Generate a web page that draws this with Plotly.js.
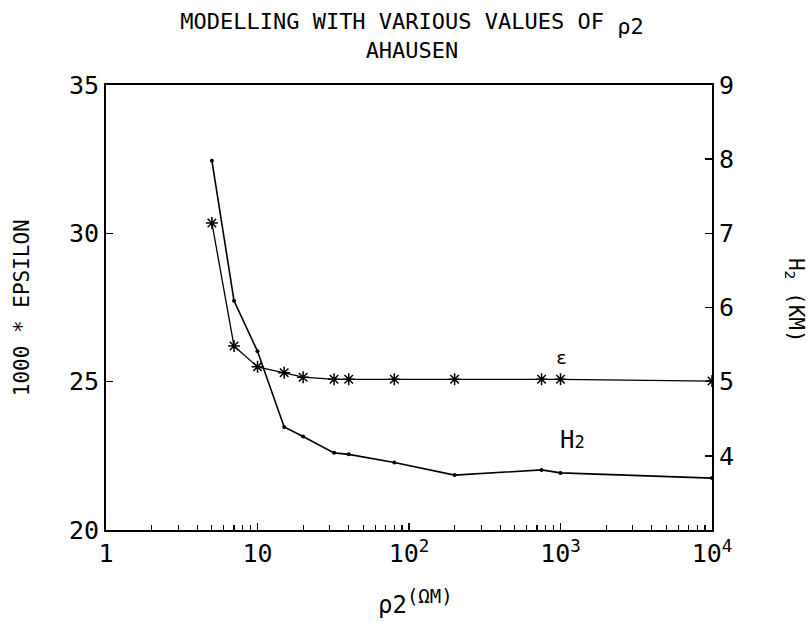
<!DOCTYPE html>
<html><head><meta charset="utf-8">
<script src="https://cdn.plot.ly/plotly-3.0.1.min.js"></script>
<style>html,body{margin:0;padding:0;background:#fff}</style>
</head><body><div id="chart" style="width:811px;height:622px"></div>
<script>
// Data
const rho2 = [5, 7, 10, 15, 20, 32, 40, 80, 200, 750, 1000, 10000];
const epsilon = [30.35, 26.2, 25.5, 25.3, 25.15, 25.08, 25.08, 25.08, 25.08, 25.08, 25.08, 25.02];
const h2 = [7.98, 6.09, 5.41, 4.39, 4.26, 4.04, 4.02, 3.91, 3.74, 3.81, 3.77, 3.70];

const leftTicks = [20, 25, 30, 35];
const leftTickText = ['20', '25', '30', '35'];
const rightTicks = [4, 5, 6, 7, 8, 9];
const rightTickText = ['4', '5', '6', '7', '8', '9'];
const decades = [1, 10, 100, 1000, 10000];
const decadeText = ['1', '10', '10<sup>2</sup>', '10<sup>3</sup>', '10<sup>4</sup>'];

const FONT = '"DejaVu Sans Mono", "Liberation Mono", monospace';

// minor x tick positions (2..9 within each decade)
const xMinor = [];
for (let d = 0; d < decades.length - 1; d++) {
  for (let m = 2; m <= 9; m++) xMinor.push(decades[d] * m);
}

const traces = [
  {x: rho2, y: epsilon, yaxis: 'y', mode: 'lines+markers', name: 'ε',
   line: {color: '#000', width: 1.3},
   marker: {symbol: 'asterisk-open', size: 10, color: '#000', line: {color: '#000', width: 1.5}}},
  {x: rho2, y: h2, yaxis: 'y2', mode: 'lines+markers', name: 'H2',
   line: {color: '#000', width: 1.6},
   marker: {symbol: 'circle', size: 4, color: '#000'}}
];

const layout = {
  width: 811, height: 622,
  paper_bgcolor: '#fff', plot_bgcolor: '#fff',
  showlegend: false,
  margin: {l: 106, r: 99, t: 85, b: 92},
  font: {family: FONT, color: '#000'},
  title: {text: 'MODELLING WITH VARIOUS VALUES OF <sub><span style="font-size:22px">ρ2</span></sub><br>AHAUSEN',
          x: 0.508, xanchor: 'center', yref: 'container', y: 0.953, yanchor: 'middle',
          font: {family: FONT, size: 22, color: '#000'}},
  xaxis: {type: 'log', range: [0, 4], tickmode: 'array', tickvals: decades, ticktext: decadeText,
          ticks: 'inside', ticklen: 7, tickwidth: 1.4, tickcolor: '#000',
          minor: {tickmode: 'array', tickvals: xMinor, ticks: 'inside', ticklen: 5, tickwidth: 1.2, tickcolor: '#000', showgrid: false},
          showline: true, linecolor: '#000', linewidth: 2, mirror: true,
          showgrid: false, zeroline: false,
          tickfont: {family: FONT, size: 25, color: '#000'}},
  yaxis: {range: [20, 35], tickvals: leftTicks, ticktext: leftTickText,
          ticks: 'inside', ticklen: 7, tickwidth: 1.5, tickcolor: '#000',
          showline: true, linecolor: '#000', linewidth: 2,
          showgrid: false, zeroline: false,
          tickfont: {family: FONT, size: 25, color: '#000'}},
  yaxis2: {range: [3, 9], overlaying: 'y', side: 'right',
           tickvals: rightTicks, ticktext: rightTickText,
           ticks: 'inside', ticklen: 7, tickwidth: 1.5, tickcolor: '#000',
           showline: true, linecolor: '#000', linewidth: 2,
           showgrid: false, zeroline: false,
           tickfont: {family: FONT, size: 25, color: '#000'}},
  annotations: [
    {xref: 'paper', yref: 'paper', x: -0.139, xanchor: 'center', y: 0.5, yanchor: 'middle', text: '1000 * EPSILON',
     textangle: -90, showarrow: false, font: {family: FONT, size: 21, color: '#000'}},
    {xref: 'paper', yref: 'paper', x: 1.137, xanchor: 'center', y: 0.517, yanchor: 'middle', text: 'H<sub>2</sub> (KM)',
     textangle: 90, showarrow: false, font: {family: FONT, size: 21, color: '#000'}},
    {xref: 'paper', yref: 'paper', x: 0.51, xanchor: 'center', y: -0.162, yanchor: 'middle',
     text: 'ρ2<sup><span style="font-size:19px">(ΩM)</span></sup>',
     showarrow: false, font: {family: FONT, size: 24, color: '#000'}},
    {xref: 'x', yref: 'y', x: 3.005, y: 25.8, text: 'ε', showarrow: false,
     font: {family: FONT, size: 18, color: '#000'}},
    {xref: 'x', yref: 'y', x: 3.076, y: 23.05, text: 'H<span style="font-size:17px">2</span>', showarrow: false,
     font: {family: FONT, size: 24, color: '#000'}}
  ]
};

Plotly.newPlot('chart', traces, layout, {displayModeBar: false, staticPlot: true});
</script>
</body></html>
